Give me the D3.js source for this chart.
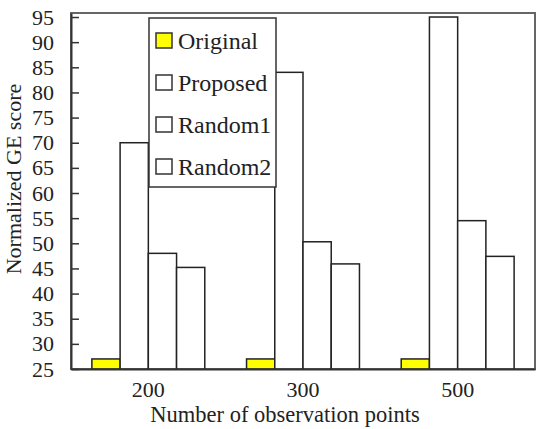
<!DOCTYPE html>
<html>
<head>
<meta charset="utf-8">
<script src="https://cdn.jsdelivr.net/npm/d3@7"></script>
<style>
  body { margin: 0; background: #fff; }
  svg text { font-family: "Liberation Serif", "DejaVu Serif", serif; fill: #222; }
</style>
</head>
<body>
<svg id="chart"></svg>
<script>
// DATA
const groups = ["200", "300", "500"];
const series = ["Original", "Proposed", "Random1", "Random2"];
const original = [27, 27, 27];
const proposed = [70, 84, 95];
const random1 = [48, 50.3, 54.5];
const random2 = [45.2, 45.9, 47.4];
const yTicks = [25, 30, 35, 40, 45, 50, 55, 60, 65, 70, 75, 80, 85, 90, 95];
const fills = ["#ffff00", "#ffffff", "#ffffff", "#ffffff"];

const width = 538, height = 429;
const margin = { top: 13, right: 3, bottom: 60, left: 71 };

const values = [original, proposed, random1, random2];
const table = groups.map((g, i) => ({
  group: g,
  bars: series.map((s, j) => ({ key: s, value: values[j][i], fill: fills[j] }))
}));

const svg = d3.select("#chart")
  .attr("width", width)
  .attr("height", height);

// SCALES
const x = d3.scaleBand()
  .domain(groups)
  .range([margin.left, width - margin.right])
  .paddingInner(0.27)
  .paddingOuter(0.135);

const xInner = d3.scaleBand()
  .domain(series)
  .range([0, x.bandwidth()]);

const y = d3.scaleLinear()
  .domain([25, 95.8])
  .range([height - margin.bottom, margin.top]);

// FRAME
svg.append("rect")
  .attr("x", margin.left)
  .attr("y", margin.top)
  .attr("width", width - margin.left - margin.right)
  .attr("height", height - margin.top - margin.bottom)
  .attr("fill", "none")
  .attr("stroke", "#666")
  .attr("stroke-width", 2);

// BARS
svg.selectAll("g.group")
  .data(table)
  .join("g")
  .attr("class", "group")
  .attr("transform", d => `translate(${x(d.group)},0)`)
  .selectAll("rect")
  .data(d => d.bars)
  .join("rect")
  .attr("x", d => xInner(d.key))
  .attr("y", d => y(d.value))
  .attr("width", xInner.bandwidth())
  .attr("height", d => y(25) - y(d.value))
  .attr("fill", d => d.fill)
  .attr("stroke", "#222")
  .attr("stroke-width", 1.5);

// AXES
const yAxis = svg.append("g")
  .attr("transform", `translate(${margin.left},0)`)
  .call(d3.axisLeft(y).tickValues(yTicks).tickSizeInner(-8).tickSizeOuter(0).tickPadding(17));
yAxis.attr("font-family", null);
yAxis.select(".domain").attr("stroke", "#333").attr("stroke-width", 2);
yAxis.selectAll(".tick line").attr("stroke", "#333").attr("stroke-width", 1.5);
yAxis.selectAll("text").attr("font-size", 22).attr("fill", "#222");

const xAxis = svg.append("g")
  .attr("transform", `translate(0,${height - margin.bottom})`)
  .call(d3.axisBottom(x).tickSize(0).tickPadding(12));
xAxis.attr("font-family", null);
xAxis.select(".domain").attr("stroke", "#333").attr("stroke-width", 2);
xAxis.selectAll("text").attr("font-size", 22).attr("fill", "#222");

// AXIS LABELS
svg.append("text")
  .attr("x", (margin.left + width - margin.right) / 2 - 18)
  .attr("y", 422)
  .attr("text-anchor", "middle")
  .attr("font-size", 22.5)
  .text("Number of observation points");

svg.append("text")
  .attr("transform", `translate(20.5,179) rotate(-90)`)
  .attr("text-anchor", "middle")
  .attr("font-size", 22)
  .text("Normalized GE score");

// LEGEND
const legend = svg.append("g").attr("transform", "translate(149,18)");
legend.append("rect")
  .attr("width", 127)
  .attr("height", 169)
  .attr("fill", "#fff")
  .attr("stroke", "#333")
  .attr("stroke-width", 1.5);

const rows = legend.selectAll("g.row")
  .data(series)
  .join("g")
  .attr("class", "row")
  .attr("transform", (d, i) => `translate(7,${23 + i * 42})`);

rows.append("rect")
  .attr("y", -8)
  .attr("width", 16)
  .attr("height", 15)
  .attr("fill", (d, i) => fills[i])
  .attr("stroke", "#333")
  .attr("stroke-width", 1.5);

rows.append("text")
  .attr("x", 22)
  .attr("y", 8)
  .attr("font-size", 24)
  .text(d => d);
</script>
</body>
</html>
